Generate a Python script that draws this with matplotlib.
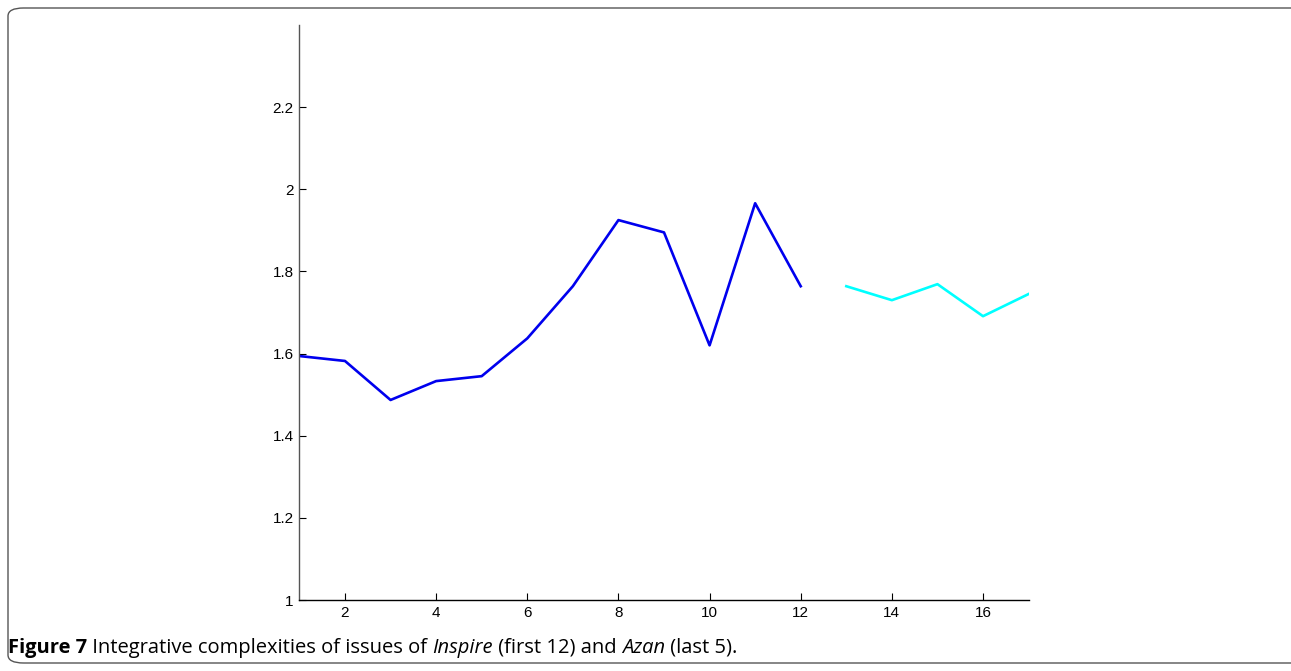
import matplotlib
matplotlib.use("Agg")
import matplotlib.pyplot as plt
from matplotlib.patches import FancyBboxPatch
from matplotlib.ticker import FormatStrFormatter

inspire_issues = list(range(1, 13))
inspire_values = [1.594, 1.582, 1.487, 1.533, 1.545, 1.637, 1.764, 1.925, 1.895, 1.620, 1.966, 1.764]
azan_issues = list(range(13, 18))
azan_values = [1.764, 1.730, 1.769, 1.691, 1.745]
x_ticks = [2, 4, 6, 8, 10, 12, 14, 16]
y_ticks = [1, 1.2, 1.4, 1.6, 1.8, 2, 2.2]

W, H = 1291, 671
fig = plt.figure(figsize=(W / 100, H / 100), dpi=100)

# rounded frame
frame = FancyBboxPatch((8 / W, 8 / H), (W + 20 - 8) / W, (663 - 8) / H,
                       boxstyle="round,pad=0,rounding_size=0.012",
                       transform=fig.transFigure, fill=False,
                       edgecolor="#555555", linewidth=1.0, clip_on=False)
fig.patches.append(frame)

ax = fig.add_axes([299.4 / W, 1 - 600 / H, (1028.6 - 299.4) / W, (600 - 25) / H])
ax.plot(inspire_issues, inspire_values, color="#0000ee", linewidth=1.9)
ax.plot(azan_issues, azan_values, color="#00ffff", linewidth=1.9)
ax.set_xlim(1, 17)
ax.set_ylim(1, 2.4)
ax.set_xticks(x_ticks)
ax.set_yticks(y_ticks)
ax.yaxis.set_major_formatter(FormatStrFormatter('%g'))
for s in ["top", "right"]:
    ax.spines[s].set_visible(False)
ax.spines["left"].set_color("#555555")
ax.spines["left"].set_linewidth(1.0)
ax.spines["bottom"].set_color("black")
ax.spines["bottom"].set_linewidth(1.0)
ax.tick_params(direction="in", length=5, width=0.8, labelsize=11, pad=4)
for lab in ax.get_xticklabels() + ax.get_yticklabels():
    lab.set_fontfamily(["Liberation Sans", "DejaVu Sans"])

# caption built from pieces
fam = ["Open Sans", "DejaVu Sans"]
pieces = [("Figure 7", "bold", "normal"),
          (" Integrative complexities of issues of ", "normal", "normal"),
          ("Inspire", "normal", "italic"),
          (" (first 12) and ", "normal", "normal"),
          ("Azan", "normal", "italic"),
          (" (last 5).", "normal", "normal")]
fig.canvas.draw()
renderer = fig.canvas.get_renderer()
x = 8
for txt, wt, st in pieces:
    t = fig.text(x / W, 1 - 653 / H, txt, fontsize=14.5, fontweight=wt, fontstyle=st,
                 family=fam, ha="left", va="baseline")
    bb = t.get_window_extent(renderer=renderer)
    x += bb.width

fig.savefig("out.png", dpi=100)
